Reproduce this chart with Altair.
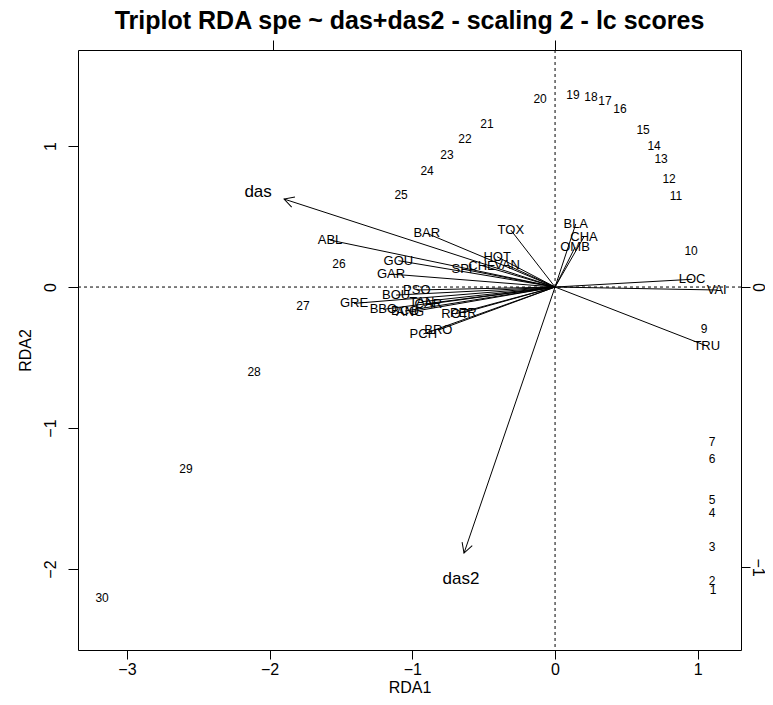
import altair as alt
import pandas as pd
import numpy as np

# ---- data ----
site_ids = [1, 2, 3, 4, 5, 6, 7, 9, 10, 11, 12, 13, 14, 15, 16, 17, 18, 19, 20,
            21, 22, 23, 24, 25, 26, 27, 28, 29, 30]
site_x = [1.107, 1.100, 1.100, 1.100, 1.100, 1.100, 1.100, 1.044, 0.953, 0.848,
          0.799, 0.743, 0.694, 0.617, 0.455, 0.350, 0.252, 0.126, -0.105,
          -0.477, -0.631, -0.757, -0.897, -1.079, -1.514, -1.766, -2.109, -2.586, -3.174]
site_y = [-2.149, -2.085, -1.844, -1.603, -1.511, -1.220, -1.100, -0.298, 0.255, 0.645,
          0.766, 0.908, 1.000, 1.113, 1.262, 1.319, 1.348, 1.362, 1.333,
          1.156, 1.050, 0.936, 0.823, 0.652, 0.163, -0.135, -0.603, -1.291, -2.206]

species = ["CHA", "TRU", "VAI", "LOC", "OMB", "BLA", "HOT", "TOX", "VAN", "CHE",
           "BAR", "SPI", "GOU", "BRO", "PER", "BOU", "PSO", "ROT", "CAR", "TAN",
           "BCO", "PCH", "GRE", "GAR", "BBO", "ABL", "ANG"]
sp_x = [0.203, 1.063, 1.133, 0.960, 0.140, 0.145, -0.406, -0.310, -0.336, -0.512,
        -0.899, -0.652, -1.098, -0.818, -0.643, -1.114, -0.969, -0.701, -0.888, -0.934,
        -1.051, -0.923, -1.409, -1.149, -1.203, -1.577, -1.016]
sp_y = [0.357, -0.418, -0.021, 0.055, 0.282, 0.447, 0.215, 0.404, 0.156, 0.152,
        0.381, 0.128, 0.187, -0.305, -0.182, -0.057, -0.021, -0.191, -0.121, -0.104,
        -0.170, -0.333, -0.116, 0.092, -0.158, 0.333, -0.177]

env_names = ["das", "das2"]
env_x = [-1.899, -0.638]
env_y = [0.624, -1.887]
env_label_x = [-2.081, -0.659]
env_label_y = [0.674, -2.071]

x_ticks = [-3, -2, -1, 0, 1]
y_ticks = [-2, -1, 0, 1]
top_ticks = [-1, 0]
right_ticks = [-1, 0]

# ---- layout ----
W, H = 663, 600
X_DOM = [-3.343, 1.303]
Y_DOM = [-2.574, 1.681]
X2_DOM = [-1.691, 0.660]
Y2_DOM = [-1.296, 0.846]
FONT = "Liberation Sans"

sites = pd.DataFrame({"label": [str(s) for s in site_ids], "x": site_x, "y": site_y})
spec = pd.DataFrame({"label": species, "x": sp_x, "y": sp_y})
env = pd.DataFrame({"label": env_names, "x": env_x, "y": env_y,
                    "lx": env_label_x, "ly": env_label_y})
pxx = W / (X_DOM[1] - X_DOM[0])
pxy = H / (Y_DOM[1] - Y_DOM[0])
env["ang"] = (np.degrees(np.arctan2(-env["y"] * pxy, env["x"] * pxx)) + 360) % 360

xs = alt.Scale(domain=X_DOM, nice=False, zero=False)
ys = alt.Scale(domain=Y_DOM, nice=False, zero=False)

x_axis = alt.Axis(title="RDA1", values=x_ticks, orient="bottom", tickSize=9,
                  labelPadding=2, titlePadding=2, domain=False)
y_axis = alt.Axis(title="RDA2", values=y_ticks, orient="left", labelAngle=-90,
                  labelPadding=10, titlePadding=9, domain=False)


def X(field):
    return alt.X(field, type="quantitative", scale=xs, axis=x_axis, title="RDA1")


def Y(field):
    return alt.Y(field, type="quantitative", scale=ys, axis=y_axis, title="RDA2")


zero = pd.DataFrame({"v": [0]})
vline = alt.Chart(zero).mark_rule(color="black", strokeDash=[3, 3], strokeWidth=1).encode(
    x=X("v"))
hline = alt.Chart(zero).mark_rule(color="black", strokeDash=[3, 3], strokeWidth=1).encode(
    y=Y("v"))

sp_lines = alt.Chart(spec).transform_calculate(x0="0", y0="0").mark_rule(
    color="black", strokeWidth=1).encode(
    x=X("x0"), y=Y("y0"), x2="x:Q", y2="y:Q")

sp_text = alt.Chart(spec).mark_text(font=FONT, fontSize=13, color="black").encode(
    x=X("x"), y=Y("y"), text="label:N")

site_text = alt.Chart(sites).mark_text(font=FONT, fontSize=12, color="black").encode(
    x=X("x"), y=Y("y"), text="label:N")

env_lines = alt.Chart(env).transform_calculate(x0="0", y0="0").mark_rule(
    color="black", strokeWidth=1).encode(
    x=X("x0"), y=Y("y0"), x2="x:Q", y2="y:Q")

env_heads = alt.Chart(env).mark_point(
    shape="M-1,-0.55L0,0L-1,0.55", filled=False, color="black", strokeWidth=1,
    size=380, opacity=1).encode(
    x=X("x"), y=Y("y"), angle=alt.Angle("ang:Q", scale=None))

env_text = alt.Chart(env).mark_text(font=FONT, fontSize=17, color="black").encode(
    x=X("lx"), y=Y("ly"), text="label:N")

main = alt.layer(vline, hline, sp_lines, env_lines, env_heads, sp_text, site_text, env_text)

sec = pd.DataFrame({"x2v": [0.0], "y2v": [0.0]})
secondary = alt.Chart(sec).mark_point(opacity=0).encode(
    x=alt.X("x2v:Q", scale=alt.Scale(domain=X2_DOM, nice=False, zero=False),
            axis=alt.Axis(orient="top", values=top_ticks, labels=False, title=None,
                          domain=False)),
    y=alt.Y("y2v:Q", scale=alt.Scale(domain=Y2_DOM, nice=False, zero=False),
            axis=alt.Axis(orient="right", values=right_ticks, title=None, labelAngle=90,
                          labelBaseline="alphabetic", tickSize=9,
                          labelPadding=2, domain=False)))

chart = alt.layer(main, secondary).resolve_scale(x="independent", y="independent").properties(
    width=W, height=H,
    title=alt.TitleParams("Triplot RDA spe ~ das+das2 - scaling 2 - lc scores",
                          font=FONT, fontSize=25, fontWeight="bold", color="black",
                          anchor="middle", offset=6),
    autosize=alt.AutoSizeParams(type="none"),
    padding={"left": 70, "top": 42, "right": 24, "bottom": 47},
).configure_axis(
    labelFont=FONT, titleFont=FONT, labelFontSize=16, titleFontSize=16,
    titleFontWeight="normal", labelColor="black", titleColor="black",
    tickColor="black", tickSize=10, tickWidth=1, grid=False,
).configure_view(stroke="black", strokeWidth=1)

chart.save("out.html", embed_options={"renderer": "svg", "actions": False})
